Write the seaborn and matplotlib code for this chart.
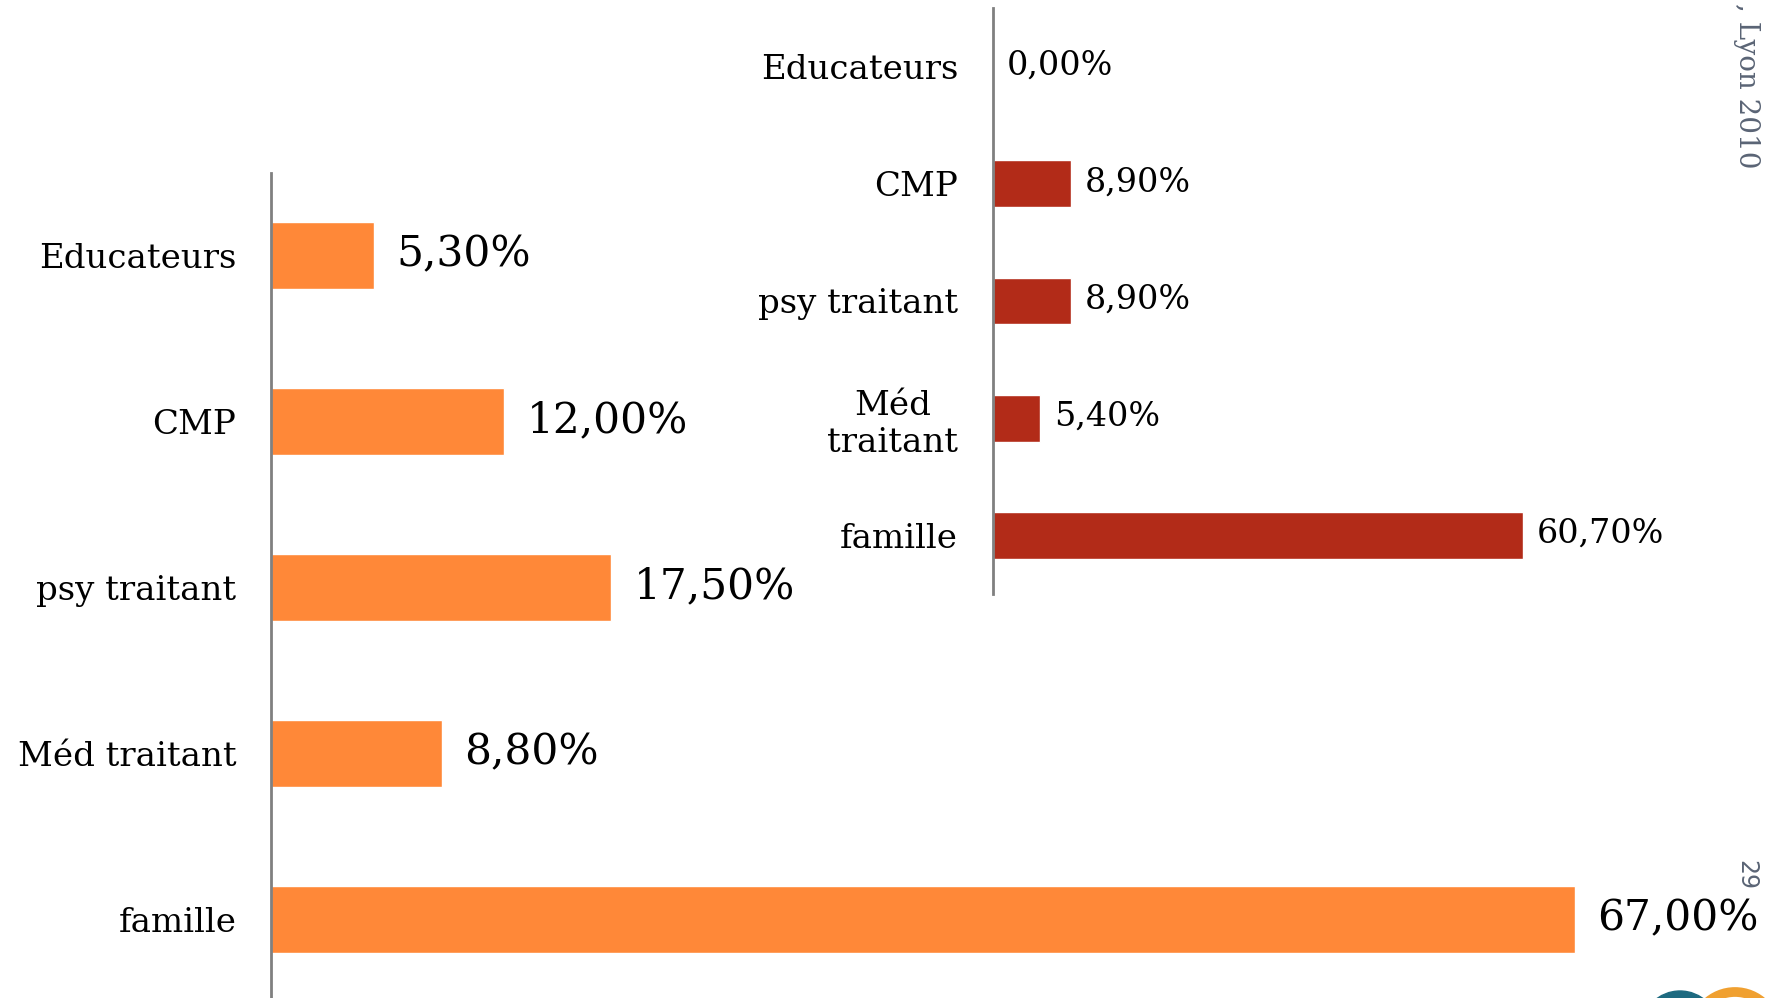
import pandas as pd
import seaborn as sns
from matplotlib import pyplot as plt
from matplotlib import patches

# left chart
left_categories = ["Educateurs", "CMP", "psy traitant", "Méd traitant", "famille"]
left_values = [5.3, 12.0, 17.5, 8.8, 67.0]

# right chart
right_categories = ["Educateurs", "CMP", "psy traitant", "Méd\ntraitant", "famille"]
right_values = [0.0, 8.9, 8.9, 5.4, 60.7]

ORANGE = "#FF8838"
RED = "#B22B18"
AXIS_GREY = "#808080"

sns.set_theme(style="white")
plt.rcParams["font.family"] = ["DejaVu Serif", "DejaVu Sans"]


def pct(v):
    return f"{v:.2f}".replace(".", ",") + "%"


def draw_bars(ax, cats, vals, color, label_size, tick_size, label_pad):
    df = pd.DataFrame({"cat": cats, "val": vals})
    sns.barplot(data=df, x="val", y="cat", orient="h", color=color,
                width=0.4, saturation=1, ax=ax)
    ax.set_facecolor("none")
    ax.set(xlabel="", ylabel="", xlim=(0, 70), ylim=(4.5, -0.5))
    ax.set_xticks([])
    for side in ["top", "right", "bottom"]:
        ax.spines[side].set_visible(False)
    ax.spines["left"].set_color(AXIS_GREY)
    ax.spines["left"].set_linewidth(2)
    ax.tick_params(axis="y", length=0, pad=25, labelsize=tick_size,
                   labelcolor="black")
    for lbl in ax.get_yticklabels():
        lbl.set_multialignment("center")
    for i, v in enumerate(vals):
        ax.annotate(pct(v), xy=(v, i), xytext=(label_pad, 1),
                    textcoords="offset points", ha="left", va="center",
                    fontsize=label_size, color="black")


fig = plt.figure(figsize=(17.7, 9.98), dpi=100)
fig.patch.set_facecolor("white")

ax_left = fig.add_axes([0.1531, -0.0046, 0.7695, 0.8317])
draw_bars(ax_left, left_categories, left_values, ORANGE, 30.5, 24.5, 16)

ax_right = fig.add_axes([0.5610, 0.4048, 0.3452, 0.5872])
draw_bars(ax_right, right_categories, right_values, RED, 24, 24.5, 10)

# slide decorations
fig.text(0.987, 0.8307, ", Lyon 2010", rotation=270, ha="center", va="bottom",
         fontsize=20, color="#5a6475")
fig.text(0.9866, 0.1232, "29", rotation=270, ha="center", va="center",
         fontsize=17, color="#5a6475", family="DejaVu Sans")
fig.patches.append(patches.Circle((16.8, -0.32), 0.39, color="#1d6a80",
                                  transform=fig.dpi_scale_trans))
fig.patches.append(patches.Circle((17.35, -0.36), 0.42, fill=False,
                                  edgecolor="#f0a030", linewidth=7,
                                  transform=fig.dpi_scale_trans))

fig.savefig("out.png", dpi=100)
